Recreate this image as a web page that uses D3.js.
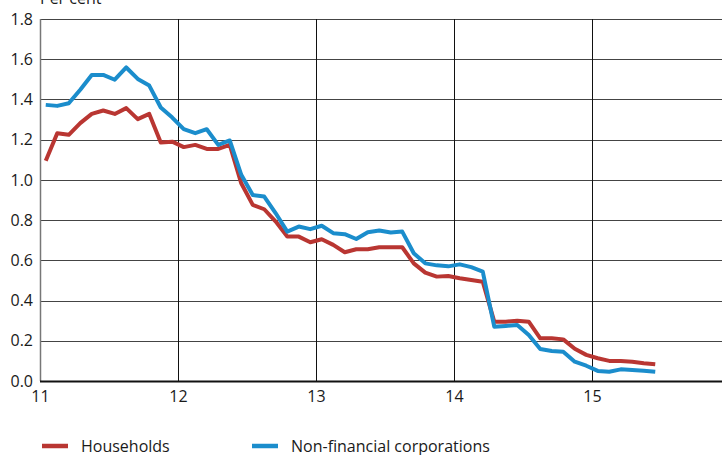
<!DOCTYPE html>
<html>
<head>
<meta charset="utf-8">
<script src="https://cdn.jsdelivr.net/npm/d3@7"></script>
<style>
  html, body { margin: 0; padding: 0; background: #fff; }
  svg { display: block; }
  text { font-family: "Open Sans", "Noto Sans", sans-serif; fill: #1a1a1a; }
</style>
</head>
<body>
<svg id="chart" width="722" height="455"></svg>
<script>
// Monthly series, January 2011 to June 2015 (per cent)
const startYear = 11;
const households = [
  1.095, 1.232, 1.224, 1.282, 1.328, 1.345, 1.328, 1.357, 1.302, 1.328, 1.186, 1.190,
  1.163, 1.174, 1.154, 1.154, 1.174, 0.983, 0.876, 0.854, 0.793, 0.718, 0.718, 0.690,
  0.705, 0.677, 0.640, 0.655, 0.655, 0.665, 0.665, 0.665, 0.585, 0.539, 0.519, 0.522,
  0.511, 0.502, 0.494, 0.295, 0.295, 0.300, 0.295, 0.212, 0.212, 0.207, 0.160, 0.130,
  0.113, 0.100, 0.100, 0.096, 0.088, 0.083
];
const corporations = [
  1.373, 1.368, 1.381, 1.448, 1.522, 1.522, 1.498, 1.559, 1.502, 1.469, 1.360, 1.310,
  1.252, 1.232, 1.252, 1.174, 1.196, 1.025, 0.925, 0.917, 0.834, 0.743, 0.768, 0.755,
  0.772, 0.735, 0.730, 0.706, 0.740, 0.748, 0.738, 0.743, 0.635, 0.585, 0.575, 0.570,
  0.580, 0.566, 0.544, 0.270, 0.274, 0.279, 0.229, 0.159, 0.149, 0.145, 0.096, 0.076,
  0.050, 0.046, 0.058, 0.055, 0.051, 0.046
];
const xTicks = [11, 12, 13, 14, 15];
const yTicks = [0, 0.2, 0.4, 0.6, 0.8, 1.0, 1.2, 1.4, 1.6, 1.8];
const seriesNames = ["Households", "Non-financial corporations"];
const seriesColors = ["#b93632", "#1b8dcc"];

const svg = d3.select("#chart");
const plotLeft = 40, plotRight = 730, plotTop = 19, plotBottom = 381;

const x = d3.scaleLinear().domain([11, 16]).range([plotLeft, plotRight]);
const y = d3.scaleLinear().domain([0, 1.8]).range([plotBottom, plotTop]);

// horizontal grid
svg.append("g")
  .selectAll("line")
  .data(yTicks.filter(d => d > 0))
  .join("line")
  .attr("x1", plotLeft).attr("x2", 722)
  .attr("y1", d => Math.round(y(d)) + 0.5).attr("y2", d => Math.round(y(d)) + 0.5)
  .attr("stroke", "#444").attr("stroke-width", 1);

// vertical grid at year boundaries
svg.append("g")
  .selectAll("line")
  .data(xTicks.slice(1))
  .join("line")
  .attr("x1", d => Math.round(x(d)) + 0.5).attr("x2", d => Math.round(x(d)) + 0.5)
  .attr("y1", plotTop).attr("y2", plotBottom)
  .attr("stroke", "#111").attr("stroke-width", 1);

// left axis line
svg.append("line")
  .attr("x1", plotLeft + 0.5).attr("x2", plotLeft + 0.5)
  .attr("y1", plotTop).attr("y2", plotBottom)
  .attr("stroke", "#777").attr("stroke-width", 1.5);

// y-axis labels
const yAxis = d3.axisLeft(y).tickValues(yTicks).tickFormat(d3.format(".1f")).tickSize(0).tickPadding(7);
const gy = svg.append("g").attr("transform", `translate(${plotLeft},0)`).call(yAxis);
gy.select(".domain").remove();
gy.selectAll("text").attr("font-size", 16).attr("font-family", "\"Open Sans\", sans-serif").attr("fill", "#1a1a1a");

// x-axis labels
const xAxis = d3.axisBottom(x).tickValues(xTicks).tickFormat(d => d).tickSize(0).tickPadding(10);
const gx = svg.append("g").attr("transform", `translate(0,${plotBottom})`).call(xAxis);
gx.select(".domain").remove();
gx.selectAll("text").attr("font-size", 16).attr("font-family", "\"Open Sans\", sans-serif").attr("fill", "#1a1a1a");

// series lines
const toPoints = arr => arr.map((v, i) => [startYear + (i + 0.5) / 12, v]);
const line = d3.line().x(d => x(d[0])).y(d => y(d[1]));

[households, corporations].forEach((arr, k) => {
  svg.append("path")
    .datum(toPoints(arr))
    .attr("fill", "none")
    .attr("stroke", seriesColors[k])
    .attr("stroke-width", 4)
    .attr("stroke-linejoin", "round")
    .attr("d", line);
});

// baseline
svg.append("line")
  .attr("x1", plotLeft).attr("x2", 722)
  .attr("y1", plotBottom + 0.5).attr("y2", plotBottom + 0.5)
  .attr("stroke", "#111").attr("stroke-width", 1.8);

// unit label
svg.append("text")
  .attr("x", 40).attr("y", 4)
  .attr("font-size", 16)
  .text("Per cent");

// legend
const legendX = [42, 252];
seriesNames.forEach((name, k) => {
  const g = svg.append("g").attr("transform", `translate(${legendX[k]},446)`);
  g.append("line").attr("x1", 0).attr("x2", 26).attr("y1", 0).attr("y2", 0)
    .attr("stroke", seriesColors[k]).attr("stroke-width", 4.5);
  g.append("text").attr("x", 39).attr("y", 5.5).attr("font-size", 16).text(name);
});
</script>
</body>
</html>
